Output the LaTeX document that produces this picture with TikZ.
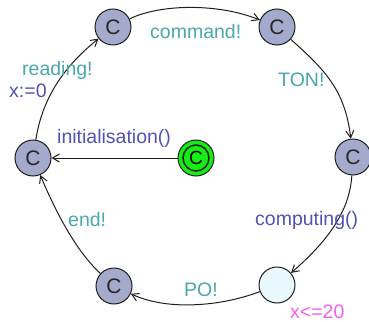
\documentclass[tikz,border=0pt]{standalone}
\usepackage{fontspec}
\setmainfont{Liberation Sans}
\usetikzlibrary{arrows.meta}
\definecolor{locfill}{RGB}{163,170,204}
\definecolor{initfill}{RGB}{20,238,20}
\definecolor{urgfill}{RGB}{232,248,252}
\definecolor{synccol}{RGB}{72,168,172}
\definecolor{updcol}{RGB}{82,82,182}
\definecolor{invcol}{RGB}{240,96,240}
\definecolor{edgecol}{RGB}{30,30,30}
\tikzset{
  loc/.style={circle, draw=edgecol, line width=1pt, fill=locfill, minimum size=36pt, inner sep=0pt,
    font=\fontsize{21}{22}\selectfont, text=black!85},
  urgloc/.style={loc, fill=urgfill},
  initloc/.style={loc, fill=initfill},
  edge/.style={draw=edgecol, line width=1pt, -{Straight Barb[length=7pt,width=8pt]}},
  lbl/.style={anchor=base west, inner sep=0pt, font=\fontsize{19.5}{22}\selectfont},
  sync/.style={lbl, text=synccol},
  upd/.style={lbl, text=updcol},
  inv/.style={lbl, text=invcol}
}
\begin{document}
\begin{tikzpicture}[x=1pt, y=-1pt]
\useasboundingbox (0,0) rectangle (369,321);
% locations
\node[loc] (T1) at (113,27) {C};
\node[loc] (T2) at (277,27) {C};
\node[loc] (R) at (353,157) {C};
\node[urgloc] (BR) at (277,285) {};
\node[loc] (BL) at (114,286) {C};
\node[loc] (L) at (33,158) {C};
\node[initloc] (G) at (196,158) {};
\draw[edgecol, line width=1.5pt] (G.center) circle (13pt);
\node[font=\fontsize{19}{20}\selectfont, text=black, inner sep=0pt] (Gc) at (G.center) {C};
% transitions
\draw[edge] (T1) .. controls (160,4) and (218,3) .. (T2);
\draw[edge] (T2) .. controls (325,70) and (345,90) .. (R);
\draw[edge] (R) .. controls (350,205) and (335,235) .. (BR);
\draw[edge] (BR) .. controls (225,305) and (170,312) .. (BL);
\draw[edge] (BL) .. controls (75,250) and (55,210) .. (L);
\draw[edge] (L) .. controls (42,100) and (62,68) .. (T1);
\draw[edge] (G) -- (L);
% labels
\node[sync] (lcmd) at (150,38.5) {command!};
\node[sync] (lton) at (278,86) {TON!};
\node[sync] (lread) at (22,75) {reading!};
\node[upd] (lx0) at (9,97) {x:=0};
\node[upd] (linit) at (57,143) {initialisation()};
\node[sync] (lend) at (68,226) {end!};
\node[upd] (lcomp) at (255,225) {computing()};
\node[sync] (lpo) at (184,296) {PO!};
\node[inv] (linv) at (290,318) {x<=20};
\end{tikzpicture}
\end{document}
